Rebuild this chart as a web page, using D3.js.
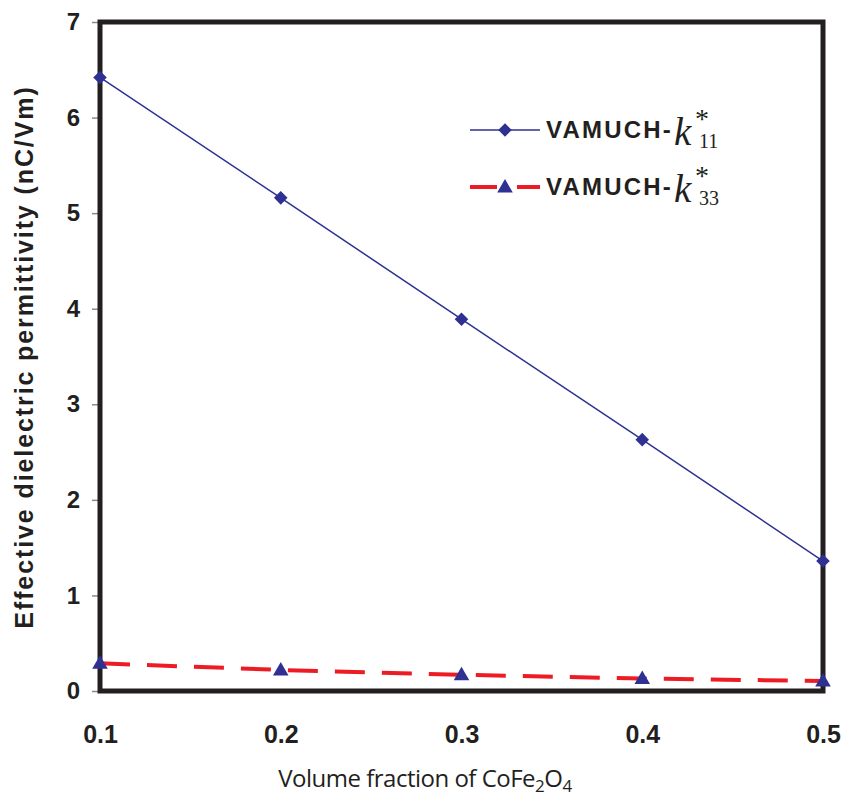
<!DOCTYPE html>
<html>
<head>
<meta charset="utf-8">
<script src="https://cdn.jsdelivr.net/npm/d3@7"></script>
<style>
  body { margin: 0; background: #fff; }
  svg { display: block; }
</style>
</head>
<body>
<div id="grafico"></div>
<script>
// dados
const fracoes = [0.1, 0.2, 0.3, 0.4, 0.5];
const k11 = [6.42, 5.16, 3.89, 2.63, 1.36];
const k33 = [0.29, 0.22, 0.17, 0.13, 0.105];
const yTicks = [0, 1, 2, 3, 4, 5, 6, 7];
const xTicks = [0.1, 0.2, 0.3, 0.4, 0.5];

const azul = "#2e3192", vermelho = "#ed1c24", preto = "#231f20";

let width = 845, height = 796;
let margin = { top: 22, right: 22, bottom: 105, left: 100 };

let svg = d3.select("#grafico").append("svg")
    .attr("width", width)
    .attr("height", height);

// escalas
let x = d3.scaleLinear().domain([0.1, 0.5]).range([margin.left, width - margin.right]);
let y = d3.scaleLinear().domain([0, 7]).range([height - margin.bottom, margin.top]);

// eixo y
let eixoY = svg.append("g")
    .attr("transform", `translate(${margin.left},0)`)
    .call(d3.axisLeft(y).tickValues(yTicks).tickSizeOuter(0).tickSizeInner(8).tickPadding(12).tickFormat(d3.format("d")));
eixoY.select(".domain").remove();
eixoY.selectAll("line").attr("stroke", "#8a8a8a").attr("stroke-width", 1.5);
eixoY.selectAll("text")
    .attr("font-family", "Liberation Sans, Arial, sans-serif")
    .attr("font-weight", "bold")
    .attr("font-size", 24)
    .attr("fill", preto);

// eixo x
let eixoX = svg.append("g")
    .attr("transform", `translate(0,${y(0)})`)
    .call(d3.axisBottom(x).tickValues(xTicks).tickSize(0).tickPadding(34).tickFormat(d3.format(".1f")));
eixoX.select(".domain").remove();
eixoX.selectAll("text")
    .attr("font-family", "Liberation Sans, Arial, sans-serif")
    .attr("font-weight", "bold")
    .attr("font-size", 25)
    .attr("fill", preto);

// moldura
svg.append("rect")
    .attr("x", x(0.1))
    .attr("y", y(7))
    .attr("width", x(0.5) - x(0.1))
    .attr("height", y(0) - y(7))
    .attr("fill", "none")
    .attr("stroke", preto)
    .attr("stroke-width", 5);

// linhas
let linha = d3.line().x((d, i) => x(fracoes[i])).y(d => y(d));

svg.append("path")
    .datum(k11)
    .attr("d", linha)
    .attr("fill", "none")
    .attr("stroke", azul)
    .attr("stroke-width", 1.5);

svg.append("path")
    .datum(k33)
    .attr("d", linha)
    .attr("fill", "none")
    .attr("stroke", vermelho)
    .attr("stroke-width", 4)
    .attr("stroke-dasharray", "30,17");

// marcadores
let losango = d3.symbol().type(d3.symbolSquare).size(92);
let triangulo = d3.symbol().type(d3.symbolTriangle).size(105);

svg.selectAll(".m11")
    .data(k11)
    .enter().append("path")
    .attr("d", losango)
    .attr("transform", (d, i) => `translate(${x(fracoes[i])},${y(d)}) rotate(45)`)
    .attr("fill", azul);

svg.selectAll(".m33")
    .data(k33)
    .enter().append("path")
    .attr("d", triangulo)
    .attr("transform", (d, i) => `translate(${x(fracoes[i])},${y(d) + 1})`)
    .attr("fill", azul);

// títulos dos eixos
svg.append("text")
    .attr("transform", `translate(33,357) rotate(-90)`)
    .attr("text-anchor", "middle")
    .attr("font-family", "Liberation Sans, Arial, sans-serif")
    .attr("font-weight", "bold")
    .attr("font-size", 25)
    .attr("letter-spacing", 1.9)
    .attr("fill", preto)
    .text("Effective dielectric permittivity (nC/Vm)");

let tituloX = svg.append("text")
    .attr("x", 425)
    .attr("y", 787)
    .attr("text-anchor", "middle")
    .attr("font-family", "Open Sans, sans-serif")
    .attr("font-size", 24)
    .attr("letter-spacing", -0.5)
    .attr("fill", preto);
tituloX.append("tspan").text("Volume fraction of CoFe");
tituloX.append("tspan").attr("font-size", 17).attr("dy", 5).text("2");
tituloX.append("tspan").attr("dy", -5).text("O");
tituloX.append("tspan").attr("font-size", 17).attr("dy", 5).text("4");

// legenda
const legenda = [
    { nome: "11", cor: azul, tracejado: null, largura: 1.5, simbolo: losango, rot: 45 },
    { nome: "33", cor: vermelho, tracejado: "27,20", largura: 4, simbolo: triangulo, rot: 0 }
];

legenda.forEach((l, i) => {
    let g = svg.append("g").attr("transform", `translate(0,${130 + i * 57})`);
    g.append("line")
        .attr("x1", 470).attr("x2", 540)
        .attr("y1", 0).attr("y2", 0)
        .attr("stroke", l.cor)
        .attr("stroke-width", l.largura)
        .attr("stroke-dasharray", l.tracejado);
    g.append("path")
        .attr("d", l.simbolo)
        .attr("transform", `translate(505,${i ? 1 : 0}) rotate(${l.rot})`)
        .attr("fill", azul);
    g.append("text")
        .attr("x", 546).attr("y", 8)
        .attr("font-family", "Liberation Sans, Arial, sans-serif")
        .attr("font-weight", "bold")
        .attr("font-size", 24)
        .attr("letter-spacing", 2.2)
        .attr("fill", preto)
        .text("VAMUCH-");
    g.append("text")
        .attr("x", 674).attr("y", 15)
        .attr("font-family", "Liberation Serif, Times New Roman, serif")
        .attr("font-style", "italic")
        .attr("font-size", 39)
        .attr("fill", preto)
        .text("k");
    g.append("text")
        .attr("x", 699).attr("y", 18)
        .attr("font-family", "Liberation Serif, Times New Roman, serif")
        .attr("font-size", 20)
        .attr("fill", preto)
        .text(l.nome);
    g.append("text")
        .attr("x", 695).attr("y", -2)
        .attr("font-family", "Liberation Serif, Times New Roman, serif")
        .attr("font-size", 28)
        .attr("fill", preto)
        .text("*");
});
</script>
</body>
</html>
